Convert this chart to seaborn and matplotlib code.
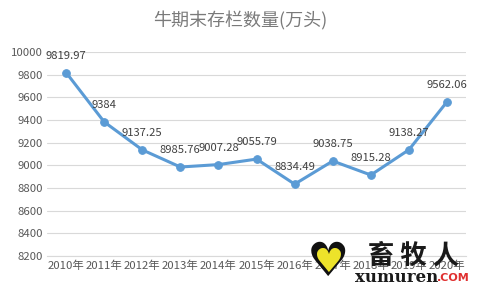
import matplotlib
matplotlib.use("Agg")
import matplotlib.pyplot as plt
import seaborn as sns
import pandas as pd

years = ["2010年", "2011年", "2012年", "2013年", "2014年", "2015年",
         "2016年", "2017年", "2018年", "2019年", "2020年"]
values = [9819.97, 9384, 9137.25, 8985.76, 9007.28, 9055.79,
          8834.49, 9038.75, 8915.28, 9138.27, 9562.06]
labels = ["9819.97", "9384", "9137.25", "8985.76", "9007.28", "9055.79",
          "8834.49", "9038.75", "8915.28", "9138.27", "9562.06"]
yticks = [8200, 8400, 8600, 8800, 9000, 9200, 9400, 9600, 9800, 10000]
title = "牛期末存栏数量(万头)"

sns.set_theme(style="white")
plt.rcParams['font.family'] = ['Noto Sans CJK SC', 'DejaVu Sans']

df = pd.DataFrame({"year": years, "value": values, "x": range(len(years))})

fig = plt.figure(figsize=(4.8, 2.88), dpi=100)
ax = fig.add_axes([0.098, 0.111, 0.873, 0.708])

blue = "#5B9BD5"
sns.lineplot(data=df, x="x", y="value", ax=ax, color=blue, linewidth=2.2,
             marker="o", markersize=5.5, markeredgecolor=blue, markerfacecolor=blue)

for xi, v, lab in zip(df["x"], values, labels):
    ax.annotate(lab, (xi, v), xytext=(0, 12), textcoords="offset points",
                ha="center", va="center", fontsize=8.1, color="#404040")

ax.set_xlim(-0.5, len(years) - 0.5)
ax.set_ylim(8200, 10000)
ax.set_yticks(yticks)
ax.set_yticklabels([str(t) for t in yticks])
ax.set_xticks(range(len(years)))
ax.set_xticklabels(years)
ax.tick_params(axis="y", labelsize=8.2, colors="#595959", length=0, pad=3)
ax.tick_params(axis="x", labelsize=8.2, colors="#595959", length=0, pad=3)
ax.grid(axis="y", color="#D9D9D9", linewidth=0.8)
ax.set_axisbelow(True)
for s in ["top", "right", "left"]:
    ax.spines[s].set_visible(False)
ax.spines["bottom"].set_color("#D9D9D9")
ax.spines["bottom"].set_linewidth(0.8)
ax.set_xlabel("")
ax.set_ylabel("")

fig.text(0.5, 1 - 21 / 288, title, ha="center", va="center",
         fontsize=13, color="#7A7A7A")

# watermark
fig.text(328 / 480, 1 - 264 / 288, "♥", ha="center", va="center",
         fontsize=34, color="#111111", family=["DejaVu Sans"])
fig.text(328 / 480, 1 - 263 / 288, "♥", ha="center", va="center",
         fontsize=24, color="#EDE32A", family=["DejaVu Sans"])
fig.text(414 / 480, 1 - 256 / 288, "畜 牧 人", ha="center", va="center",
         fontsize=19, color="#1a1a1a", fontweight="bold",
         family=["Noto Sans CJK SC"])
fig.text(355 / 480, 1 - 278 / 288, "xumuren", ha="left", va="center",
         fontsize=12, color="#1a1a1a", fontweight="bold",
         family=["DejaVu Serif"])
fig.text(437 / 480, 1 - 278 / 288, ".COM", ha="left", va="center",
         fontsize=8, color="#E03030", fontweight="bold", family=["DejaVu Sans"])

fig.savefig("out.png", dpi=100)
